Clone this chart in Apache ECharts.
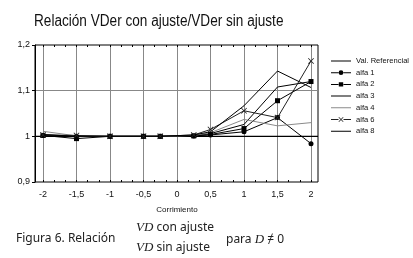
<!DOCTYPE html>
<html>
<head>
<meta charset="utf-8">
<script src="https://cdn.jsdelivr.net/npm/echarts@6/dist/echarts.min.js"></script>
<style>
html, body { margin: 0; padding: 0; background: #fff; }
#main { width: 413px; height: 258px; }
</style>
</head>
<body>
<div id="main"></div>
<script>
// datos
var xValues = [-2, -1.5, -1, -0.5, -0.25, 0.25, 0.5, 1, 1.5, 2];
var refValues = [1, 1];
var alfa1 = [1.002, 1.000, 1.000, 1.000, 1.000, 1.001, 1.003, 1.010, 1.041, 0.984];
var alfa2 = [1.002, 0.995, 1.000, 1.000, 1.000, 1.001, 1.004, 1.017, 1.078, 1.120];
var alfa3 = [1.003, 1.000, 1.000, 1.000, 1.000, 1.002, 1.006, 1.026, 1.108, 1.120];
var alfa4 = [1.011, 1.001, 1.000, 1.000, 1.000, 1.002, 1.008, 1.037, 1.023, 1.030];
var alfa6 = [1.003, 1.002, 1.000, 1.000, 1.000, 1.003, 1.015, 1.056, 1.041, 1.165];
var alfa8 = [1.004, 1.000, 1.000, 1.000, 1.000, 1.003, 1.010, 1.067, 1.143, 1.107];
var xTicks = [-2, -1.5, -1, -0.5, 0, 0.5, 1, 1.5, 2];

var sans = "'Liberation Sans', Arial, sans-serif";
var crossPath = 'path://M0,1L1,0L5,4L9,0L10,1L6,5L10,9L9,10L5,6L1,10L0,9L4,5Z';

function pares(vals) {
    return xValues.map(function (x, i) { return [x, vals[i]]; });
}
function coma(v) {
    return String(+(+v).toFixed(2)).replace('.', ',');
}

// iconos de leyenda en una caja de 20x8: linea + marcador
var caja = 'M0,0h0.01v0.01h-0.01Z M20,8h-0.01v-0.01h0.01Z ';
var lineaEntera = 'M0,3.5H20V4.5H0Z ';
var lineaPartida = 'M0,3.5H7.5V4.5H0Z M12.5,3.5H20V4.5H12.5Z ';
var iconoLinea = 'path://' + caja + lineaEntera;
var iconoCirculo = 'path://' + caja + lineaPartida + 'M7.6,4A2.4,2.4 0 1,0 12.4,4A2.4,2.4 0 1,0 7.6,4Z';
var iconoCuadrado = 'path://' + caja + lineaPartida + 'M7.8,1.8H12.2V6.2H7.8Z';
var iconoCruz = 'path://' + caja + lineaPartida +
    'M7.5,2L8,1.5L10,3.5L12,1.5L12.5,2L10.5,4L12.5,6L12,6.5L10,4.5L8,6.5L7.5,6L9.5,4Z';

var chart = echarts.init(document.getElementById('main'), null, {renderer: 'canvas'});

function serie(name, vals, symbol, size, color) {
    return {
        name: name,
        type: 'line',
        xAxisIndex: 1,
        yAxisIndex: 1,
        data: pares(vals),
        symbol: symbol,
        symbolSize: size,
        showSymbol: symbol !== 'none',
        lineStyle: {color: color, width: 1},
        itemStyle: {color: color},
        z: 5
    };
}

var rich = {i: {fontFamily: '"Liberation Serif", serif', fontStyle: 'italic', fontSize: 13}};

chart.setOption({
    animation: false,
    legend: {
        orient: 'vertical',
        left: 326,
        top: 52,
        itemWidth: 20,
        itemHeight: 8,
        itemGap: 3.7,
        textStyle: {fontFamily: sans, fontSize: 7.6, color: '#111', lineHeight: 8},
        data: [
            {name: 'Val. Referencial', icon: iconoLinea},
            {name: 'alfa 1', icon: iconoCirculo},
            {name: 'alfa 2', icon: iconoCuadrado},
            {name: 'alfa 3', icon: iconoLinea},
            {name: 'alfa 4', icon: iconoLinea},
            {name: 'alfa 6', icon: iconoCruz},
            {name: 'alfa 8', icon: iconoLinea}
        ]
    },
    grid: [
        {left: 35, top: 45, width: 283, height: 137, show: true, borderColor: '#000', borderWidth: 1},
        {left: 43, top: 45, width: 268, height: 137}
    ],
    xAxis: [
        {
            gridIndex: 0, type: 'category', boundaryGap: false, data: ['a', 'b'],
            axisLine: {show: false}, axisTick: {show: false}, axisLabel: {show: false}, splitLine: {show: false}
        },
        {
            gridIndex: 1, type: 'value', min: -2, max: 2, interval: 0.5,
            name: 'Corrimiento', nameLocation: 'middle', nameGap: 24,
            nameTextStyle: {fontFamily: sans, fontSize: 8, color: '#111'},
            axisLine: {show: false},
            axisTick: {show: true, inside: true, length: 2, lineStyle: {color: '#000'}},
            minorTick: {show: true, splitNumber: 3, length: 2, lineStyle: {color: '#000'}},
            axisLabel: {
                fontFamily: sans, fontSize: 9, color: '#111', margin: 8,
                formatter: function (v) { return xTicks.indexOf(+v) >= 0 ? coma(v) : ''; }
            },
            splitLine: {show: true, lineStyle: {color: '#888', width: 1}}
        },
        {
            gridIndex: 1, type: 'value', min: -2, max: 2, interval: 0.5, position: 'top',
            axisLine: {show: false},
            axisTick: {show: true, inside: true, length: 2, lineStyle: {color: '#000'}},
            minorTick: {show: true, splitNumber: 3, length: 2, lineStyle: {color: '#000'}},
            axisLabel: {show: false}, splitLine: {show: false}
        }
    ],
    yAxis: [
        {
            gridIndex: 0, type: 'value', min: 0.9, max: 1.2, interval: 0.1,
            axisLine: {show: true, lineStyle: {color: '#000'}},
            axisTick: {show: true, length: 3, lineStyle: {color: '#000'}},
            axisLabel: {
                fontFamily: sans, fontSize: 9, color: '#111', margin: 5,
                formatter: function (v) { return coma(v); }
            },
            splitLine: {show: true, showMinLine: false, showMaxLine: false, lineStyle: {color: '#888', width: 1}}
        },
        {
            gridIndex: 1, type: 'value', min: 0.9, max: 1.2, interval: 0.1,
            axisLine: {show: false}, axisTick: {show: false}, axisLabel: {show: false}, splitLine: {show: false}
        }
    ],
    series: [
        {
            name: 'Val. Referencial', type: 'line', xAxisIndex: 0, yAxisIndex: 0,
            data: refValues, symbol: 'none', showSymbol: false,
            lineStyle: {color: '#000', width: 1.3}, itemStyle: {color: '#000'}, z: 4
        },
        serie('alfa 1', alfa1, 'circle', 5, '#000'),
        serie('alfa 2', alfa2, 'rect', 5, '#000'),
        serie('alfa 3', alfa3, 'none', 0, '#000'),
        serie('alfa 4', alfa4, 'none', 0, '#8a8a8a'),
        serie('alfa 6', alfa6, crossPath, 6, '#222'),
        serie('alfa 8', alfa8, 'none', 0, '#000')
    ],
    graphic: [
        {
            type: 'text', x: 34, y: 22, scaleX: 0.85,
            style: {
                text: 'Relación VDer con ajuste/VDer sin ajuste',
                font: '16px "Liberation Sans", Arial, sans-serif', fill: '#111',
                verticalAlign: 'middle'
            }
        },
        {
            type: 'text', left: 16, top: 233,
            style: {text: 'Figura 6. Relación', font: '12px "Noto Sans", sans-serif', fill: '#222'}
        },
        {
            type: 'text', left: 136, top: 221,
            style: {text: '{i|VD} con ajuste', font: '12px "Noto Sans", sans-serif', fill: '#222', rich: rich}
        },
        {
            type: 'text', left: 136, top: 241,
            style: {text: '{i|VD} sin ajuste', font: '12px "Noto Sans", sans-serif', fill: '#222', rich: rich}
        },
        {
            type: 'text', left: 226, top: 233,
            style: {text: 'para {i|D} ≠ 0', font: '12px "Noto Sans", sans-serif', fill: '#222', rich: rich}
        }
    ]
});
</script>
</body>
</html>
